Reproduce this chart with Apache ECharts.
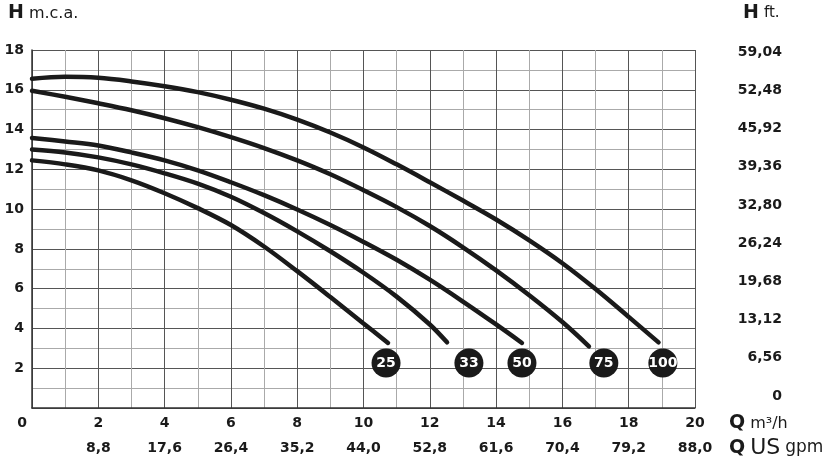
<!DOCTYPE html>
<html>
<head>
<meta charset="utf-8">
<script src="https://cdn.jsdelivr.net/npm/echarts@6/dist/echarts.min.js"></script>
<style>
  html, body { margin: 0; padding: 0; background: #fff; }
  #chart { width: 839px; height: 464px; }
</style>
</head>
<body>
<div id="chart"></div>
<script>
// tick labels
const flowTicks = [2, 4, 6, 8, 10, 12, 14, 16, 18, 20]
const gpmLabels = ['8,8', '17,6', '26,4', '35,2', '44,0', '52,8', '61,6', '70,4', '79,2', '88,0']
const ftLabels = ['0', '6,56', '13,12', '19,68', '26,24', '32,80', '39,36', '45,92', '52,48', '59,04']

// curves: flow (m3/h) / head (m.c.a.)
const q25 = [0, 1, 2, 3, 4, 5, 6, 7, 8, 9, 10, 10.74]
const h25 = [12.45, 12.25, 11.95, 11.45, 10.8, 10.05, 9.2, 8.12, 6.88, 5.58, 4.25, 3.27]

const q33 = [0, 1, 2, 3, 4, 5, 6, 7, 8, 9, 10, 11, 12, 12.52]
const h33 = [13.0, 12.85, 12.6, 12.25, 11.8, 11.28, 10.62, 9.8, 8.88, 7.88, 6.8, 5.6, 4.2, 3.3]

const q50 = [0, 1, 2, 3, 4, 5, 6, 7, 8, 9, 10, 11, 12, 13, 14, 14.78]
const h50 = [13.58, 13.4, 13.2, 12.85, 12.45, 11.95, 11.35, 10.7, 9.98, 9.2, 8.35, 7.45, 6.45, 5.35, 4.2, 3.27]

const q75 = [0, 1, 2, 3, 4, 5, 6, 7, 8, 9, 10, 11, 12, 13, 14, 15, 16, 16.8]
const h75 = [15.95, 15.65, 15.32, 14.97, 14.57, 14.12, 13.62, 13.07, 12.45, 11.75, 10.95, 10.1, 9.15, 8.08, 6.92, 5.67, 4.32, 3.1]

const q100 = [0, 1, 2, 3, 4, 5, 6, 7, 8, 9, 10, 11, 12, 13, 14, 15, 16, 17, 18, 18.9]
const h100 = [16.55, 16.65, 16.6, 16.42, 16.18, 15.88, 15.5, 15.05, 14.5, 13.85, 13.1, 12.25, 11.35, 10.43, 9.48, 8.43, 7.28, 5.98, 4.58, 3.3]

// model badges
const badgeLabels = ['25', '33', '50', '75', '100']
const badgeX = [10.68, 13.18, 14.78, 17.25, 19.03]
const badgeY = [2.26, 2.26, 2.26, 2.26, 2.26]

const INK = '#1a1a1a'
const NUM_FONT = 'DejaVu Sans'

function zip(xs, ys) {
  return xs.map((x, i) => [x, ys[i]])
}

function curve(name, xs, ys) {
  return {
    name,
    type: 'line',
    xAxisIndex: 0,
    yAxisIndex: 0,
    smooth: 0.35,
    showSymbol: false,
    silent: true,
    data: zip(xs, ys),
    lineStyle: { color: INK, width: 4.5, cap: 'round' }
  }
}

const bold = size => ({ fontFamily: NUM_FONT, fontWeight: 'bold', fontSize: size, color: INK })
const plain = size => ({ fontFamily: NUM_FONT, fontWeight: 'normal', fontSize: size, color: INK })

const chart = echarts.init(document.getElementById('chart'))

const option = {
  animation: false,
  backgroundColor: '#fff',
  title: [
    {
      left: 8, top: 4, padding: 0,
      text: '{h|H} {u|m.c.a.}',
      textStyle: { fontWeight: 'normal', rich: { h: bold(19), u: plain(16) } }
    },
    {
      left: 743, top: 4, padding: 0,
      text: '{h|H} {u|ft.}',
      textStyle: { fontWeight: 'normal', rich: { h: bold(19), u: plain(15) } }
    },
    {
      left: 729, top: 414, padding: 0,
      text: '{q|Q} {u|m³/h}',
      textStyle: { fontWeight: 'normal', rich: { q: bold(19), u: plain(16) } }
    },
    {
      left: 729, top: 437, padding: 0,
      text: '{q|Q} {b|US} {u|gpm}',
      textStyle: { fontWeight: 'normal', rich: { q: bold(19), b: plain(22), u: plain(17) } }
    }
  ],
  grid: [
    { left: 32, right: 144, top: 50, bottom: 56 },
    { left: 32, right: 144, top: 52, bottom: 68, show: false }
  ],
  xAxis: [
    {
      type: 'value', gridIndex: 0, min: 0, max: 20, interval: 1,
      axisLine: { lineStyle: { color: '#333', width: 1.5 } },
      axisTick: { show: false },
      axisLabel: {
        margin: 8,
        ...bold(14),
        formatter: v => {
          if (v === 0) return '{z|0}'
          return flowTicks.indexOf(v) >= 0 ? String(v) : ''
        },
        rich: {
          z: { ...bold(14), padding: [0, 20, 0, 0] }
        }
      },
      splitLine: { show: true, lineStyle: { color: ['#555', '#aaa'], width: 1 } }
    },
    {
      type: 'value', gridIndex: 0, position: 'bottom', offset: 25,
      min: 0, max: 20, interval: 1,
      axisLine: { show: false },
      axisTick: { show: false },
      splitLine: { show: false },
      axisLabel: {
        margin: 8,
        ...bold(14),
        formatter: v => {
          const i = flowTicks.indexOf(v)
          return i >= 0 ? gpmLabels[i] : ''
        }
      }
    },
    {
      type: 'value', gridIndex: 1, min: 0, max: 20, show: false
    }
  ],
  yAxis: [
    {
      type: 'value', gridIndex: 0, min: 0, max: 18, interval: 1,
      axisLine: { show: true, lineStyle: { color: '#333', width: 1.5 } },
      axisTick: { show: false },
      axisLabel: {
        margin: 8,
        ...bold(14),
        formatter: v => (v > 0 && v % 2 === 0 ? String(v) : '')
      },
      splitLine: { show: true, lineStyle: { color: ['#555', '#aaa'], width: 1 } }
    },
    {
      type: 'value', gridIndex: 1, position: 'right', min: 0, max: 9, interval: 1,
      axisLine: { show: false },
      axisTick: { show: false },
      splitLine: { show: false },
      axisLabel: {
        margin: 87, align: 'right',
        ...bold(14),
        formatter: v => ftLabels[v] || ''
      }
    }
  ],
  series: [
    curve('25', q25, h25),
    curve('33', q33, h33),
    curve('50', q50, h50),
    curve('75', q75, h75),
    curve('100', q100, h100),
    {
      type: 'scatter',
      xAxisIndex: 0,
      yAxisIndex: 0,
      silent: true,
      symbol: 'circle',
      symbolSize: 29,
      itemStyle: { color: INK, opacity: 1 },
      label: {
        show: true,
        position: 'inside',
        ...bold(14),
        color: '#fff',
        formatter: p => badgeLabels[p.dataIndex]
      },
      data: zip(badgeX, badgeY),
      z: 5
    }
  ]
}

chart.setOption(option)
</script>
</body>
</html>
